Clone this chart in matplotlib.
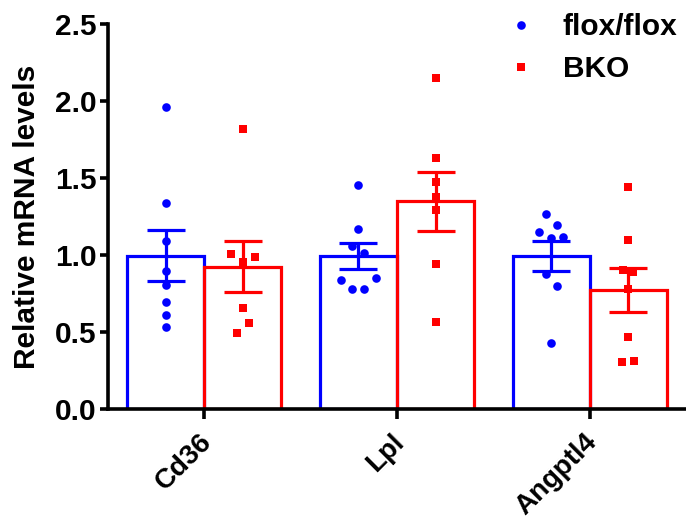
import matplotlib
matplotlib.use("Agg")
import matplotlib.pyplot as plt
import numpy as np
from matplotlib.lines import Line2D

categories = ["Cd36", "Lpl", "Angptl4"]
groups = ["flox/flox", "BKO"]

flox_means = [0.995, 0.994, 0.995]
flox_sems = [0.165, 0.082, 0.098]
bko_means = [0.925, 1.349, 0.773]
bko_sems = [0.168, 0.190, 0.141]

flox_points = [
    [1.963, 1.336, 1.093, 0.896, 0.805, 0.697, 0.610, 0.535],
    [1.455, 1.167, 1.061, 1.015, 0.848, 0.838, 0.777, 0.777],
    [1.264, 1.195, 1.151, 1.119, 1.108, 0.877, 0.801, 0.431],
]
flox_jitter = [
    [0, 0, 0, 0, 0, 0, 0, 0],
    [0, 0, -0.031, 0.031, 0.091, -0.091, -0.031, 0.031],
    [-0.028, 0.030, -0.061, 0.061, 0, -0.028, 0.030, 0],
]
bko_points = [
    [1.818, 1.006, 0.989, 0.957, 0.654, 0.556, 0.491],
    [2.151, 1.628, 1.476, 1.379, 1.292, 0.942, 0.567],
    [1.444, 1.097, 0.903, 0.892, 0.777, 0.470, 0.314, 0.303],
]
bko_jitter = [
    [0, -0.059, 0.061, 0, 0, 0.031, -0.030],
    [0, 0, 0, 0, 0, 0, 0],
    [0, 0, -0.026, 0.026, 0, 0, 0.030, -0.031],
]

BLUE = "#0000ff"
RED = "#ff0000"
FS = 21.5

plt.rcParams['font.family'] = ['Liberation Sans', 'DejaVu Sans']
plt.rcParams['font.weight'] = 'bold'

fig = plt.figure(figsize=(6.86, 5.19), dpi=100)
ax = fig.add_axes([108/686, 110/519, 1 - 108/686, (409-24)/519])

x = np.arange(len(categories))
off = 0.2
w = 0.4
lw = 2.3

for (means, sems, pts, jit, col, marker, sgn) in [
    (flox_means, flox_sems, flox_points, flox_jitter, BLUE, 'o', -1),
    (bko_means, bko_sems, bko_points, bko_jitter, RED, 's', 1),
]:
    xc = x + sgn * off
    ax.bar(xc, means, width=w, facecolor='none', edgecolor=col, linewidth=lw, zorder=2)
    ax.errorbar(xc, means, yerr=sems, fmt='none', ecolor=col, elinewidth=lw,
                capsize=14, capthick=lw, zorder=3)
    for i in range(len(categories)):
        px = xc[i] + np.array(jit[i])
        ax.plot(px, pts[i], linestyle='none', marker=marker, color=col,
                markersize=6.2, markeredgewidth=0, zorder=4)

ax.set_xlim(-0.5, 2.5)
ax.set_ylim(0, 2.5)
ax.set_yticks([0, 0.5, 1.0, 1.5, 2.0, 2.5])
ax.set_yticklabels(["0.0", "0.5", "1.0", "1.5", "2.0", "2.5"], fontsize=FS, fontweight='bold')
ax.set_xticks(x)
ax.set_xticklabels([])
for xi, cat in zip(x, categories):
    ax.annotate(cat, xy=(xi, 0), xycoords=('data', 'axes fraction'),
                xytext=(-4.3, -14.3), textcoords='offset points',
                rotation=45, ha='right', va='top', rotation_mode='anchor',
                fontsize=20, fontweight='bold', annotation_clip=False)
ax.set_ylabel("Relative mRNA levels", fontsize=FS, fontweight='bold', labelpad=10)

for s in ['top', 'right']:
    ax.spines[s].set_visible(False)
for s in ['left', 'bottom']:
    ax.spines[s].set_linewidth(2.6)
ax.tick_params(axis='both', width=2.6, length=6, direction='out', pad=2)
ax.tick_params(axis='x', length=7, pad=3)

handles = [
    Line2D([], [], linestyle='none', marker='o', color=BLUE, markersize=6.2, markeredgewidth=0),
    Line2D([], [], linestyle='none', marker='s', color=RED, markersize=6.2, markeredgewidth=0),
]
fig.legend(handles, groups, loc='upper left', bbox_to_anchor=(506/686, 1 - 13/519),
           frameon=False, prop={'weight': 'bold', 'size': FS},
           handlelength=1.0, handletextpad=0.9, labelspacing=0.47, borderpad=0,
           borderaxespad=0)

fig.savefig("out.png", dpi=100)
